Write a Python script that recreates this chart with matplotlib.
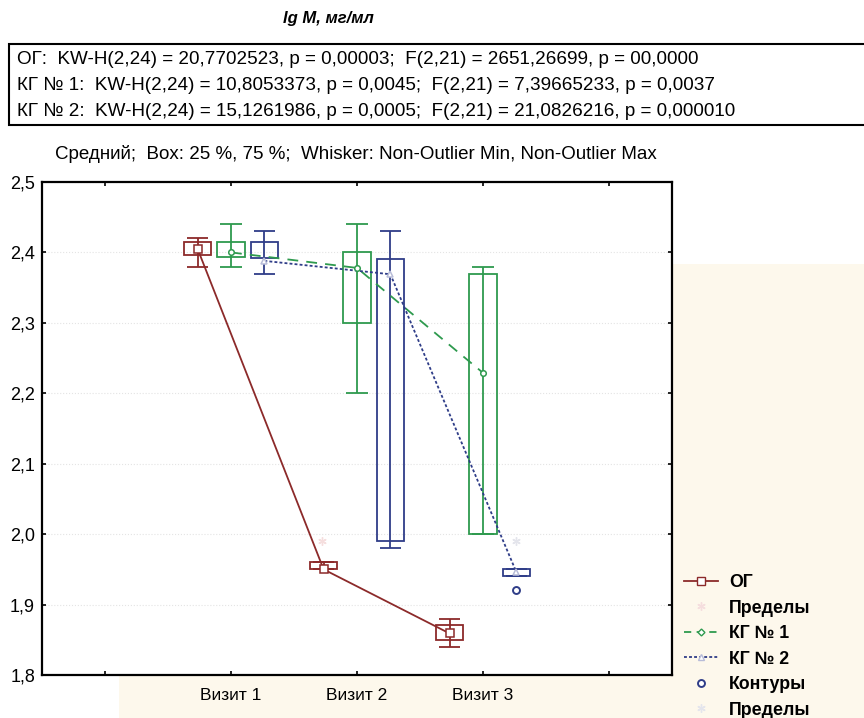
import matplotlib
matplotlib.use('Agg')
import matplotlib.pyplot as plt
from matplotlib.patches import Rectangle
from matplotlib.lines import Line2D
import numpy as np

plt.rcParams['font.family'] = ['Liberation Sans', 'DejaVu Sans']

# category positions on the axis (ticks 1 and 5 are empty)
tick_labels = ['', 'Визит 1', 'Визит 2', 'Визит 3', '']
visits = ['Визит 1', 'Визит 2', 'Визит 3']

# ОГ
og_mean = [2.405, 1.950, 1.859]
og_q1 = [2.396, 1.950, 1.849]
og_q3 = [2.415, 1.960, 1.871]
og_min = [2.380, 1.950, 1.840]
og_max = [2.420, 1.960, 1.880]
og_extremes = [(2, 1.990)]  # (visit number, value)

# КГ № 1
kg1_mean = [2.400, 2.378, 2.229]
kg1_q1 = [2.394, 2.300, 2.000]
kg1_q3 = [2.415, 2.400, 2.370]
kg1_min = [2.380, 2.200, 2.000]
kg1_max = [2.440, 2.440, 2.380]

# КГ № 2
kg2_mean = [2.388, 2.369, 1.946]
kg2_q1 = [2.392, 1.990, 1.940]
kg2_q3 = [2.415, 2.390, 1.950]
kg2_min = [2.370, 1.980, 1.940]
kg2_max = [2.430, 2.430, 1.950]
kg2_outliers = [(3, 1.920)]
kg2_extremes = [(3, 1.990)]

stats_lines = [
    'ОГ:  KW-H(2,24) = 20,7702523, p = 0,00003;  F(2,21) = 2651,26699, p = 00,0000',
    'КГ № 1:  KW-H(2,24) = 10,8053373, p = 0,0045;  F(2,21) = 7,39665233, p = 0,0037',
    'КГ № 2:  KW-H(2,24) = 15,1261986, p = 0,0005;  F(2,21) = 21,0826216, p = 0,000010',
]

c_og = '#8c2a2a'
c_kg1 = '#2e9a4e'
c_kg2 = '#2f3d88'

W, H = 864, 718
fig = plt.figure(figsize=(W / 100, H / 100), dpi=100, facecolor='white')

# cream background of the legend area
fig.patches.append(Rectangle((119 / W, 0), 1, 454 / H, transform=fig.transFigure,
                             facecolor='#fdf8ec', edgecolor='none', zorder=-10))

ax = fig.add_axes([42 / W, 43 / H, 630 / W, 493 / H])
ax.set_facecolor('white')

x = np.arange(2, 5)
offset = 0.265
box_w = 0.22
cap_w = 0.17


def draw_group(xs, mean, q1, q3, lo, hi, color, ls, marker, msize, mfc, mec, dashes=None):
    for xi, a, b, mn, mx in zip(xs, q1, q3, lo, hi):
        ax.vlines(xi, mn, mx, color=color, lw=1.3, zorder=3)
        ax.hlines([mn, mx], xi - cap_w / 2, xi + cap_w / 2, color=color, lw=1.3, zorder=3)
        ax.add_patch(Rectangle((xi - box_w / 2, a), box_w, b - a, fill=False,
                               edgecolor=color, lw=1.3, zorder=3))
    line, = ax.plot(xs, mean, color=color, ls=ls, lw=1.3, zorder=4)
    if dashes is not None:
        line.set_dashes(dashes)
    ax.plot(xs, mean, ls='none', marker=marker, ms=msize, mfc=mfc, mec=mec,
            mew=1.1, zorder=5)


draw_group(x - offset, og_mean, og_q1, og_q3, og_min, og_max, c_og, '-', 's', 5.5, 'white', c_og)
draw_group(x, kg1_mean, kg1_q1, kg1_q3, kg1_min, kg1_max, c_kg1, '--', 'o', 4, 'white', c_kg1,
           dashes=(6, 4.5))
draw_group(x + offset, kg2_mean, kg2_q1, kg2_q3, kg2_min, kg2_max, c_kg2, ':', '^', 4.5, 'white',
           '#b8bcd8', dashes=(1.6, 1.2))

for vi, v in og_extremes:
    ax.plot(vi + 1 - offset - 0.01, v, ls='none', marker=(6, 2, 0), ms=6, color='#f5dede', zorder=2)
for vi, v in kg2_extremes:
    ax.plot(vi + 1 + offset, v, ls='none', marker=(6, 2, 0), ms=6, color='#e4e5ec', zorder=2)
for vi, v in kg2_outliers:
    ax.plot(vi + 1 + offset, v, ls='none', marker='o', ms=5, mfc='white', mec=c_kg2, mew=1.4, zorder=5)

ax.set_xlim(0.5, 5.5)
ax.set_ylim(1.8, 2.5)
ax.set_xticks(np.arange(1, 6))
ax.set_xticklabels(tick_labels, fontsize=12.5)
yt = np.round(np.arange(1.8, 2.51, 0.1), 1)
ax.set_yticks(yt)
ax.set_yticklabels([f'{v:.1f}'.replace('.', ',') for v in yt], fontsize=13)
ax.tick_params(direction='in', length=3, width=1.2, top=True, right=True, pad=5)
ax.tick_params(axis='x', pad=9)
for s in ax.spines.values():
    s.set_linewidth(1.6)
ax.grid(axis='y', color='#e4e4e4', ls=':', lw=0.8)
ax.set_axisbelow(True)

# title and text block
fig.text(328 / W, 1 - 18 / H, 'lg M, мг/мл', ha='center', va='center', fontsize=12,
         fontweight='bold', fontstyle='italic')
fig.patches.append(Rectangle((9 / W, 1 - 125 / H), 1, 81 / H, transform=fig.transFigure,
                             facecolor='white', edgecolor='black', lw=1.5))
for i, s in enumerate(stats_lines):
    fig.text(17 / W, 1 - (60 + 25.5 * i) / H, s, ha='left', va='center', fontsize=13.6)
fig.text(55 / W, 1 - 154 / H, 'Средний;  Box: 25 %, 75 %;  Whisker: Non-Outlier Min, Non-Outlier Max',
         ha='left', va='center', fontsize=13.5)

handles = [
    Line2D([], [], color=c_og, lw=1.3, marker='s', ms=5.5, mfc='white', mec=c_og),
    Line2D([], [], ls='none', marker=(6, 2, 0), ms=6, color='#f5dede'),
    Line2D([], [], color=c_kg1, lw=1.3, ls=(0, (4, 3)), marker='D', ms=3.5, mfc='white', mec=c_kg1),
    Line2D([], [], color=c_kg2, lw=1.3, ls=(0, (1.6, 1.2)), marker='^', ms=4.5, mfc='white', mec='#b8bcd8'),
    Line2D([], [], ls='none', marker='o', ms=5, mfc='white', mec=c_kg2, mew=1.4),
    Line2D([], [], ls='none', marker=(6, 2, 0), ms=6, color='#e4e5ec'),
]
labels = ['ОГ', 'Пределы', 'КГ № 1', 'КГ № 2', 'Контуры', 'Пределы']
fig.legend(handles, labels, loc='upper left', bbox_to_anchor=(684 / W, 1 - 574 / H),
           frameon=False, prop={'weight': 'bold', 'size': 12.8}, handlelength=1.9,
           handletextpad=0.65, labelspacing=0.48, borderpad=0, borderaxespad=0)

fig.savefig('out.png', dpi=100, facecolor='white')
